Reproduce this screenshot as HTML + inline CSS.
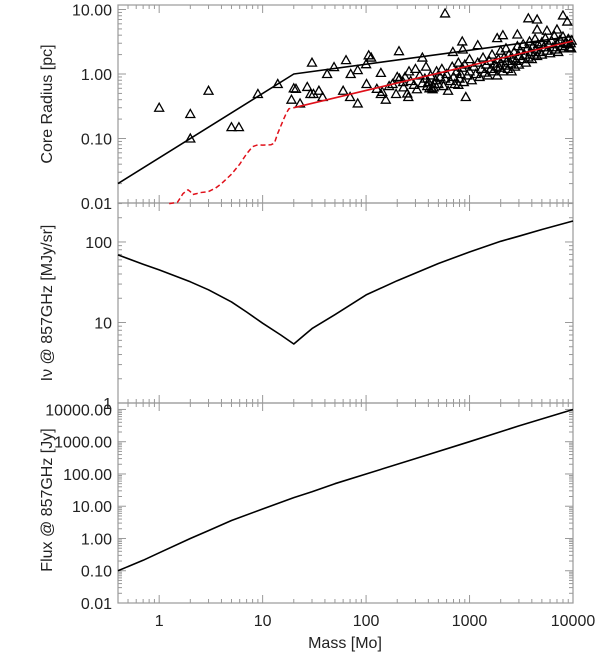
<!DOCTYPE html>
<html><head><meta charset="utf-8"><style>
html,body{margin:0;padding:0;background:#fff;}
svg{display:block;font-family:"Liberation Sans",sans-serif;}
</style></head><body>
<svg id="chart" width="600" height="655" viewBox="0 0 600 655" xmlns="http://www.w3.org/2000/svg"></svg>
<script>
// ---- data ----
const blackModelMass = [0.4, 20, 10000];
const blackModelRadius = [0.02, 1.0, 3.85];
const redDashMass = [1.25,1.5,1.6,1.7,1.8,1.9,2.0,2.1,2.3,2.5,3.0,3.5,4.0,5.0,6.0,7.0,8.0,9.0,10,12,13,14,16,17,18,20];
const redDashRadius = [0.0098,0.0102,0.012,0.014,0.015,0.016,0.015,0.0135,0.014,0.0145,0.015,0.017,0.02,0.028,0.04,0.058,0.075,0.08,0.079,0.08,0.085,0.12,0.2,0.25,0.29,0.3];
const redLineMass = [20, 10000];
const redLineRadius = [0.3, 3.25];
const obsMass = [1,2,2,3,5,5.9,9,14,20,19,23,21,27,30,29,31,35,38,42,49,60,64,70,71,83,83,100,101,106,112,127,139,143,139,155,167,195,200,208,228,238,256,350,
580,850,860,690,1200,920,780,410,2900,3700,4500,4500,5600,7000,8000,8800,2100,1850,
400,420,450,470,480,500,520,540,560,580,600,620,650,680,700,720,750,780,800,820,850,880,900,950,1000,1000,1050,1100,1150,1200,1250,1300,1350,1400,1450,1500,1550,1600,1650,1700,1750,1800,1850,1900,1950,2000,2000,2100,2150,2200,2250,2300,2350,2400,2500,2550,2600,2700,2750,2800,2900,3000,3000,3100,3200,3300,3400,3500,3600,3700,3800,3900,4000,4100,4200,4300,4400,4500,4600,4800,5000,5000,5200,5400,5600,5800,6000,6200,6400,6600,6800,7000,7200,7500,7800,8000,8200,8500,8800,9000,9200,9500,9600,9700,
180,210,230,250,270,290,310,330,350,370,390,300,260,380,430,440,460];
const obsRadius = [0.30,0.24,0.10,0.55,0.15,0.15,0.49,0.70,0.6,0.4,0.35,0.59,0.63,1.5,0.49,0.49,0.55,0.44,1.0,1.28,0.55,1.64,0.44,1.0,1.15,0.35,1.42,0.7,1.95,1.8,0.59,1.04,0.53,0.49,0.40,0.65,0.49,0.9,2.26,0.75,0.9,0.44,1.8,
8.7,3.2,2.4,2.2,2.8,0.44,0.68,0.6,4.1,7.3,7.0,4.9,4.7,4.9,8.1,6.5,4.0,3.6,
0.75,0.95,0.62,0.8,1.1,0.7,0.9,1.2,0.65,0.85,1.0,0.55,0.78,1.3,0.9,0.7,1.1,1.5,0.85,1.0,1.25,0.75,1.4,0.95,1.1,1.7,0.8,1.3,1.0,1.5,0.9,1.2,1.8,1.05,1.4,0.95,1.6,1.2,2.0,1.1,1.45,1.3,0.95,1.7,1.25,1.5,2.3,1.1,1.8,1.35,2.5,1.6,1.2,2.0,1.45,1.1,1.75,2.2,1.3,1.6,2.7,1.9,1.4,2.3,1.7,2.9,2.0,1.5,2.5,1.8,3.2,2.2,1.7,2.7,2.0,3.5,2.4,1.9,2.9,2.2,3.1,2.0,2.6,3.6,2.3,2.9,2.1,3.3,2.6,3.9,2.4,3.0,2.2,3.4,2.7,3.8,2.5,3.1,2.9,3.5,2.6,3.0,2.5,3.3,
0.7,0.85,0.62,0.5,0.78,0.68,0.58,0.95,0.72,0.85,0.65,1.2,1.1,1.3,0.6,0.58,0.7];
const intMass = [0.4,0.7,1,2,3,5,7,10,15,20,25,30,50,100,200,300,500,1000,2000,3000,5000,10000];
const intValue = [69,53,45,32,25.5,18,13.5,9.8,7,5.4,6.9,8.4,12.5,22,33,41,54,75,102,118,143,182];
const fluxMass = [0.4,0.7,1,2,3,5,10,20,30,50,100,300,1000,3000,10000];
const fluxValue = [0.1,0.21,0.36,1.0,1.75,3.6,8.2,18.5,28,50,100,300,1000,3100,10000];
const xTicks = [1,10,100,1000,10000];
const xTickLabels = ["1","10","100","1000","10000"];
const topTicks = [0.01,0.1,1,10];
const topTickLabels = ["0.01","0.10","1.00","10.00"];
const midTicks = [1,10,100];
const midTickLabels = ["1","10","100"];
const botTicks = [0.01,0.1,1,10,100,1000,10000];
const botTickLabels = ["0.01","0.10","1.00","10.00","100.00","1000.00","10000.00"];

// ---- scales ----
const X0=118, X1=573, LX0=Math.log10(0.4), LX1=4;
const sx = m => X0 + (Math.log10(m)-LX0)/(LX1-LX0)*(X1-X0);
const panels = {
  top:{y0:5,y1:203,l0:-2,l1:1.07},
  mid:{y0:203,y1:403,l0:0,l1:2.484},
  bot:{y0:403,y1:603,l0:-2,l1:4.2}
};
const sy = (p,v) => p.y1 - (Math.log10(v)-p.l0)/(p.l1-p.l0)*(p.y1-p.y0);
const NS="http://www.w3.org/2000/svg";
const svg=document.getElementById('chart');
function mk(tag, attrs, parent){const e=document.createElementNS(NS,tag);for(const k in attrs)e.setAttribute(k,attrs[k]);(parent||svg).appendChild(e);return e;}
const AX="#999", TXT="#222";

function drawPanel(key, ticks, labels, name){
  const p=panels[key];
  const g=mk('g',{});
  
  
  const fr=mk('rect',{x:X0,y:p.y0,width:X1-X0,height:p.y1-p.y0,fill:'none',stroke:AX,'stroke-width':1.2},g);
  
  
  for(let d=-1; d<=4; d++){
    for(let k=1;k<=9;k++){
      const m=k*Math.pow(10,d); if(m<0.4||m>10000) continue;
      const x=sx(m), L=(k===1)?8:4;
      mk('line',{x1:x,x2:x,y1:p.y1,y2:p.y1-L,stroke:AX,'stroke-width':1},g);
      mk('line',{x1:x,x2:x,y1:p.y0,y2:p.y0+L,stroke:AX,'stroke-width':1},g);
    }
  }
  for(let d=Math.floor(p.l0); d<=Math.ceil(p.l1); d++){
    for(let k=1;k<=9;k++){
      const v=k*Math.pow(10,d); const lv=Math.log10(v);
      if(lv<p.l0-1e-6||lv>p.l1) continue;
      const y=sy(p,v), L=(k===1)?8:4;
      mk('line',{x1:X0,x2:X0+L,y1:y,y2:y,stroke:AX,'stroke-width':1},g);
      mk('line',{x1:X1,x2:X1-L,y1:y,y2:y,stroke:AX,'stroke-width':1},g);
    }
  }
  ticks.forEach((v,i)=>{
    const t=mk('text',{x:112,y:sy(p,v)+6,'text-anchor':'end','font-size':16,fill:TXT},g);
    t.textContent=labels[i];
    
    
  });
}
drawPanel('top',topTicks,topTickLabels,'core-radius');
drawPanel('mid',midTicks,midTickLabels,'intensity');
drawPanel('bot',botTicks,botTickLabels,'flux');

xTicks.forEach((v,i)=>{
  const t=mk('text',{x:sx(v),y:626,'text-anchor':'middle','font-size':16,fill:TXT});
  t.textContent=xTickLabels[i];
  
  
});

function poly(p, ms, vs, attrs, name){
  const pts=ms.map((m,i)=>sx(m).toFixed(1)+','+sy(p,vs[i]).toFixed(1)).join(' ');
  const e=mk('polyline',Object.assign({points:pts,fill:'none','stroke-linejoin':'round'},attrs));
  
  
  return e;
}
const pg=mk('g',{});


obsMass.forEach((m,i)=>{
  const x=sx(m), y=sy(panels.top,obsRadius[i]);
  if(y<panels.top.y0||y>panels.top.y1) return;
  const tri=mk('polygon',{points:`${x-4.5},${y+3.5} ${x+4.5},${y+3.5} ${x},${y-4.5}`,fill:'none',stroke:'#000','stroke-width':1.3},pg);
  
  
});
poly(panels.top, blackModelMass, blackModelRadius, {stroke:'#000','stroke-width':1.6}, 'radius-model-line');
poly(panels.top, redDashMass, redDashRadius, {stroke:'#e0101a','stroke-width':1.5,'stroke-dasharray':'5,3'}, 'radius-dashed-red-line');
poly(panels.top, redLineMass, redLineRadius, {stroke:'#e0101a','stroke-width':1.6}, 'radius-fit-red-line');
poly(panels.mid, intMass, intValue, {stroke:'#000','stroke-width':1.6}, 'intensity-curve');
poly(panels.bot, fluxMass, fluxValue, {stroke:'#000','stroke-width':1.6}, 'flux-curve');

function ylab(txt, cy, name){
  const t=mk('text',{x:0,y:0,'text-anchor':'middle','font-size':16,fill:TXT,transform:`translate(52,${cy}) rotate(-90)`});
  t.textContent=txt;
  
  
}
ylab('Core Radius [pc]',104,'core-radius-axis-title');
ylab('I\u03bd @ 857GHz [MJy/sr]',303,'intensity-axis-title');
ylab('Flux @ 857GHz [Jy]',500,'flux-axis-title');
const xl=mk('text',{x:345,y:648,'text-anchor':'middle','font-size':16,fill:TXT});
xl.textContent='Mass [Mo]';


</script>
</body></html>
